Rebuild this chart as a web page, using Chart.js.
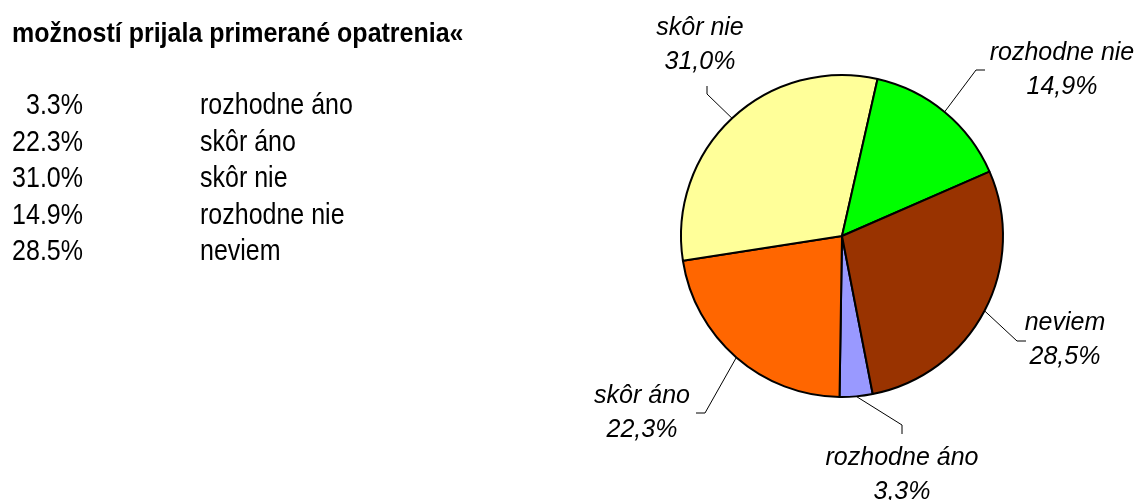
<!DOCTYPE html>
<html>
<head>
<meta charset="utf-8">
<script src="https://cdn.jsdelivr.net/npm/chart.js@4"></script>
<style>
  html, body { margin: 0; padding: 0; background: #fff; }
  canvas { display: block; }
</style>
</head>
<body>
<canvas id="myChart" width="1138" height="500"></canvas>
<script>
const TITLE = 'možností prijala primerané opatrenia«';
const LABELS = ['rozhodne áno', 'skôr áno', 'skôr nie', 'rozhodne nie', 'neviem'];
const VALUES = [3.3, 22.3, 31.0, 14.9, 28.5];
const COLORS = ['#9999FF', '#FF6600', '#FFFF99', '#00FF00', '#993300'];

// where the outside labels sit, relative to the pie centre
// [label x, label y, elbow x, elbow y, tick end x, tick end y]
const LABEL_POS = [
  [60, 239, 60, 189, 60, 198],
  [-200, 177, -137, 177, -146, 177],
  [-142, -191, -135, -142, -135, -150],
  [220, -166, 134, -166, 143, -166],
  [223, 104, 175, 105, 184, 105]
];

// text drawn a bit taller than wide, like the narrow font in the original
function tallText(ctx, text, x, y, sy) {
  ctx.save();
  ctx.translate(x, y);
  ctx.scale(1, sy);
  ctx.fillText(text, 0, 0);
  ctx.restore();
}

const pieLabels = {
  id: 'pieLabels',
  afterDraw(chart) {
    const ctx = chart.ctx;
    const meta = chart.getDatasetMeta(0);
    ctx.save();

    // title + the little table on the left
    ctx.fillStyle = '#000';
    ctx.textBaseline = 'alphabetic';
    ctx.font = 'bold 25px "Liberation Sans", Arial, sans-serif';
    ctx.textAlign = 'left';
    tallText(ctx, TITLE, 12, 42, 1.1);

    ctx.font = '25px "Liberation Sans", Arial, sans-serif';
    VALUES.forEach((v, i) => {
      const y = 114 + i * 36.6;
      ctx.textAlign = 'right';
      tallText(ctx, v.toFixed(1) + '%', 83, y, 1.2);
      ctx.textAlign = 'left';
      tallText(ctx, LABELS[i], 200, y, 1.2);
    });

    // leader lines and labels around the pie
    ctx.font = 'italic 25px "Liberation Sans", Arial, sans-serif';
    ctx.textAlign = 'center';
    ctx.textBaseline = 'middle';
    meta.data.forEach((arc, i) => {
      const cx = arc.x, cy = arc.y;
      const mid = (arc.startAngle + arc.endAngle) / 2;
      const r = arc.outerRadius;
      const p = LABEL_POS[i];
      ctx.strokeStyle = '#000';
      ctx.lineWidth = 1;
      ctx.beginPath();
      ctx.moveTo(cx + Math.cos(mid) * r, cy + Math.sin(mid) * r);
      ctx.lineTo(cx + p[2], cy + p[3]);
      ctx.lineTo(cx + p[4], cy + p[5]);
      ctx.stroke();
      ctx.fillStyle = '#000';
      ctx.fillText(LABELS[i], cx + p[0], cy + p[1] - 17);
      ctx.fillText(VALUES[i].toFixed(1).replace('.', ',') + '%', cx + p[0], cy + p[1] + 17);
    });
    ctx.restore();
  }
};

const ctx = document.getElementById('myChart').getContext('2d');
const myChart = new Chart(ctx, {
  type: 'pie',
  data: {
    labels: LABELS,
    datasets: [{
      data: VALUES,
      backgroundColor: COLORS,
      borderColor: '#000',
      borderWidth: 2
    }]
  },
  options: {
    responsive: false,
    animation: false,
    rotation: 169,
    layout: {
      padding: { left: 680, right: 134, top: 74, bottom: 102 }
    },
    plugins: {
      legend: { display: false },
      title: { display: false },
      tooltip: { enabled: false }
    }
  },
  plugins: [pieLabels]
});
</script>
</body>
</html>
